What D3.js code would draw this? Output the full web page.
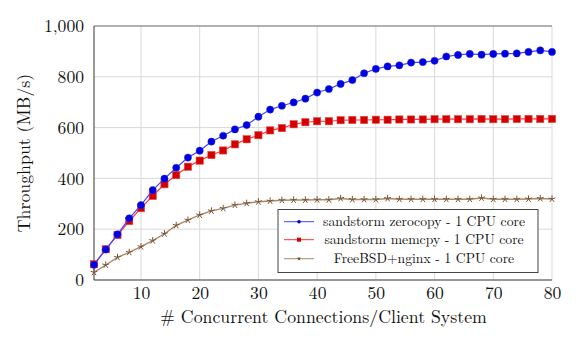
<!DOCTYPE html>
<html><head><meta charset="utf-8">
<script src="https://cdn.jsdelivr.net/npm/d3@7"></script>
<style>body{margin:0;background:#fff;} svg{display:block;}</style>
</head><body>
<script>
const connections = d3.range(2, 81, 2);
const zerocopy = [60,120,180,243,295,354,399,442,482,509,545,568,593,610,643,671,686,699,714,738,752,772,787,814,831,841,845,856,858,863,880,886,890,887,890,891,892,898,904,898];
const memcpy = [62,121,177,232,283,331,377,413,446,470,492,510,534,554,570,589,598,613,621,625,625,629,630,630,631,631,632,632,632,633,633,633,633,634,633,633,634,634,634,634];
const nginx = [30,59,89,109,131,155,182,215,236,256,272,282,295,302,308,311,314,315,315,316,316,321,317,317,317,321,318,318,318,318,318,318,318,323,318,318,318,319,321,319];
const xTicks = [10,20,30,40,50,60,70,80];
const yTicks = [0,200,400,600,800,1000];
const seriesNames = ["sandstorm zerocopy - 1 CPU core","sandstorm memcpy - 1 CPU core","FreeBSD+nginx - 1 CPU core"];

const FONT='"Latin Modern Roman","CMU Serif","Liberation Serif",serif';
const W=579,H=338;
const m={l:94,r:552,t:26,b:280};
const svg=d3.select("body").append("svg").attr("width",W).attr("height",H).attr("font-family",FONT);
const x=d3.scaleLinear().domain([2,80]).range([m.l,m.r]);
const y=d3.scaleLinear().domain([0,1000]).range([m.b,m.t]);

// grid
svg.append("g").selectAll("line").data(xTicks).join("line")
 .attr("x1",d=>x(d)).attr("x2",d=>x(d)).attr("y1",m.t).attr("y2",m.b)
 .attr("stroke","#d9d9d9").attr("stroke-width",1);
svg.append("g").selectAll("line").data(yTicks).join("line")
 .attr("x1",m.l).attr("x2",m.r).attr("y1",d=>y(d)).attr("y2",d=>y(d))
 .attr("stroke","#d9d9d9").attr("stroke-width",1);

// axes
const xa=svg.append("g").attr("transform",`translate(0,${m.b})`).call(d3.axisBottom(x).tickValues(xTicks).tickSize(0).tickPadding(6));
const ya=svg.append("g").attr("transform",`translate(${m.l},0)`).call(d3.axisLeft(y).tickValues(yTicks).tickSize(0).tickPadding(10).tickFormat(d3.format(",")));
[xa,ya].forEach(a=>{a.attr("font-family",null);a.select(".domain").remove();a.selectAll("text").style("font-family",FONT).style("font-size","17.6px").attr("fill","#111");});
svg.append("line").attr("x1",m.l).attr("x2",m.r).attr("y1",m.t).attr("y2",m.t).attr("stroke","#777").attr("stroke-width",1);
svg.append("line").attr("x1",m.l).attr("x2",m.l).attr("y1",m.t).attr("y2",m.b).attr("stroke","#555").attr("stroke-width",1.2);
svg.append("line").attr("x1",m.l).attr("x2",m.r).attr("y1",m.b).attr("y2",m.b).attr("stroke","#444").attr("stroke-width",1.2);

// labels
svg.append("text").attr("x",(m.l+m.r)/2+0.5).attr("y",322.5).attr("text-anchor","middle").style("font-family",FONT).style("font-size","17.8px").attr("fill","#111").text("# Concurrent Connections/Client System");
svg.append("text").attr("transform",`translate(30,${(m.t+m.b)/2}) rotate(-90)`).attr("text-anchor","middle").style("font-family",FONT).style("font-size","17.8px").attr("fill","#111").text("Throughput (MB/s)");

const line=d3.line().x((d,i)=>x(connections[i])).y(d=>y(d));
function star(g,cx,cy,r,col){
  for(let k=0;k<5;k++){const a=-Math.PI/2+k*2*Math.PI/5;
    g.append("line").attr("x1",cx).attr("y1",cy).attr("x2",cx+r*Math.cos(a)).attr("y2",cy+r*Math.sin(a)).attr("stroke",col).attr("stroke-width",1);}
}
// nginx
svg.append("path").datum(nginx).attr("d",line).attr("fill","none").attr("stroke","#a8896a").attr("stroke-width",1.4);
const gs=svg.append("g");
nginx.forEach((v,i)=>star(gs,x(connections[i]),y(v),3.6,"#7b5534"));
// memcpy
svg.append("path").datum(memcpy).attr("d",line).attr("fill","none").attr("stroke","#ff3333").attr("stroke-width",1.2);
svg.append("g").selectAll("rect").data(memcpy).join("rect")
 .attr("x",(d,i)=>x(connections[i])-3.6).attr("y",d=>y(d)-3.6).attr("width",7.2).attr("height",7.2)
 .attr("fill","#d40000").attr("stroke","#e84040").attr("stroke-width",0.6);
// zerocopy
svg.append("path").datum(zerocopy).attr("d",line).attr("fill","none").attr("stroke","#4444ff").attr("stroke-width",1.2);
svg.append("g").selectAll("circle").data(zerocopy).join("circle")
 .attr("cx",(d,i)=>x(connections[i])).attr("cy",d=>y(d)).attr("r",3.6)
 .attr("fill","#0000dd").attr("stroke","#2222ee").attr("stroke-width",0.5);

// legend
const lg=svg.append("g");
lg.append("rect").attr("x",278).attr("y",209.5).attr("width",260).attr("height",63).attr("fill","#fff").attr("stroke","#444").attr("stroke-width",1);
const ly=[221.7,239.7,258.7];
const lcol=["#4444ff","#ff3333","#a8896a"];
seriesNames.forEach((n,i)=>{
  lg.append("line").attr("x1",284).attr("x2",314).attr("y1",ly[i]).attr("y2",ly[i]).attr("stroke",lcol[i]).attr("stroke-width",1);
  lg.append("text").attr("x",424).attr("y",ly[i]).attr("dy","0.32em").attr("text-anchor","middle").style("font-family",FONT).style("font-size","13.7px").attr("fill","#111").text(n);
});
lg.append("circle").attr("cx",299).attr("cy",ly[0]).attr("r",1.8).attr("fill","#0000dd");
lg.append("rect").attr("x",297).attr("y",ly[1]-2).attr("width",4).attr("height",4).attr("fill","#d40000");
star(lg,299,ly[2],1.8,"#7b5534");
</script>
</body></html>
